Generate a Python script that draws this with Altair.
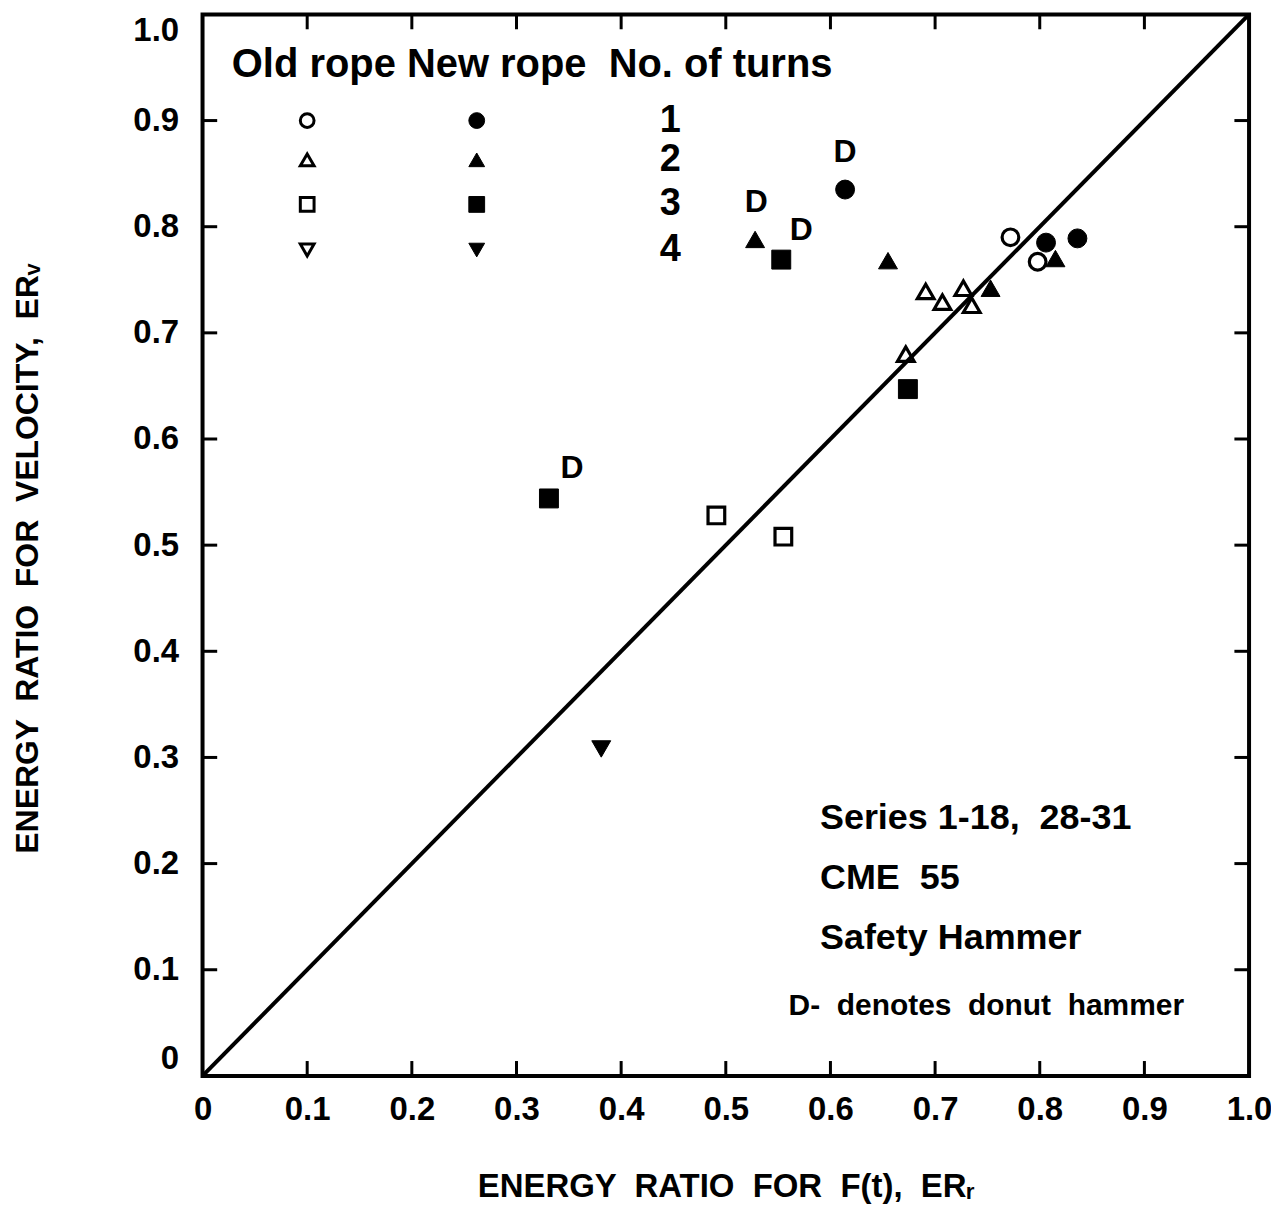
import altair as alt
import pandas as pd

FONT = "Liberation Sans, Arial, Helvetica, sans-serif"
SP2 = " \u00a0"  # a double space that SVG will not collapse

# ---- data ----
old1_x = [0.772, 0.798]
old1_y = [0.790, 0.767]
new1_x = [0.614, 0.806, 0.836]
new1_y = [0.835, 0.785, 0.789]
old2_x = [0.672, 0.691, 0.707, 0.727, 0.735]
old2_y = [0.680, 0.739, 0.729, 0.742, 0.726]
new2_x = [0.528, 0.655, 0.753, 0.815]
new2_y = [0.788, 0.768, 0.742, 0.770]
old3_x = [0.491, 0.555]
old3_y = [0.528, 0.508]
new3_x = [0.553, 0.674, 0.331]
new3_y = [0.769, 0.647, 0.544]
new4_x = [0.381]
new4_y = [0.308]

d_label_x = [0.614, 0.529, 0.572, 0.353]
d_label_y = [0.870, 0.823, 0.797, 0.573]

diag_x = [0.0, 1.0]
diag_y = [0.0, 1.0]

tick_values = [0.1, 0.2, 0.3, 0.4, 0.5, 0.6, 0.7, 0.8, 0.9]
axis_values = [0.0, 0.1, 0.2, 0.3, 0.4, 0.5, 0.6, 0.7, 0.8, 0.9, 1.0]

legend_turns = ["1", "2", "3", "4"]
legend_y = [0.900, 0.863, 0.821, 0.778]
legend_old_x = 0.100
legend_new_x = 0.262
legend_num_x = 0.447
legend_header = "Old rope New rope" + SP2 + "No. of turns"
header_x = 0.028
header_y = 0.952

note_lines = ["Series 1-18," + SP2 + "28-31", "CME" + SP2 + "55", "Safety Hammer"]
note_x = [0.590, 0.590, 0.590]
note_y = [0.2425, 0.186, 0.130]
footnote = "D-" + SP2 + "denotes" + SP2 + "donut" + SP2 + "hammer"
footnote_x = 0.560
footnote_y = 0.066

x_title = "ENERGY" + SP2 + "RATIO" + SP2 + "FOR" + SP2 + "F(t)," + SP2 + "ERᵣ"
y_title = "ENERGY" + SP2 + "RATIO" + SP2 + "FOR" + SP2 + "VELOCITY," + SP2 + "ERᵥ"

# ---- tables ----
rows = []
for rope, turns, xs_, ys_ in [
    ("Old", "1", old1_x, old1_y), ("New", "1", new1_x, new1_y),
    ("Old", "2", old2_x, old2_y), ("New", "2", new2_x, new2_y),
    ("Old", "3", old3_x, old3_y), ("New", "3", new3_x, new3_y),
    ("New", "4", new4_x, new4_y),
]:
    for a, b in zip(xs_, ys_):
        rows.append({"x": a, "y": b, "rope": rope, "turns": turns})
pts = pd.DataFrame(rows)

leg_rows = []
for t, yy in zip(legend_turns, legend_y):
    leg_rows.append({"x": legend_old_x, "y": yy, "rope": "Old", "turns": t})
    leg_rows.append({"x": legend_new_x, "y": yy, "rope": "New", "turns": t})
leg = pd.DataFrame(leg_rows)
leg_num = pd.DataFrame({"x": [legend_num_x] * 4, "y": legend_y, "t": legend_turns})

xs = alt.Scale(domain=[0, 1], nice=False, zero=False)
ys = alt.Scale(domain=[0, 1], nice=False, zero=False)

label_expr = "datum.value == 0 ? '0' : format(datum.value, '.1f')"

x_axis = alt.Axis(values=axis_values, labelExpr=label_expr, ticks=False, domain=False, grid=False,
                  labelFont=FONT, labelFontSize=33, labelFontWeight="bold", labelColor="black",
                  labelPadding=18, labelFlush=False,
                  title=x_title, titleFont=FONT, titleFontSize=33, titleFontWeight="bold",
                  titleColor="black", titleY=95)
y_axis = alt.Axis(values=axis_values, labelExpr=label_expr, ticks=False, domain=False, grid=False,
                  labelFont=FONT, labelFontSize=33, labelFontWeight="bold", labelColor="black",
                  labelPadding=24, labelFlush=True,
                  title=y_title, titleFont=FONT, titleFontSize=32, titleFontWeight="bold",
                  titleColor="black", titleX=-158, titleY=545)

shape_scale = alt.Scale(domain=["1", "2", "3", "4"],
                        range=["circle", "triangle-up", "square", "triangle-down"])
fill_scale = alt.Scale(domain=["Old", "New"], range=["transparent", "black"])

base_x = alt.X("x:Q", scale=xs, axis=x_axis)
base_y = alt.Y("y:Q", scale=ys, axis=y_axis)

diag = alt.Chart(pd.DataFrame({"x": diag_x, "y": diag_y})).mark_line(
    color="black", strokeWidth=4).encode(x=base_x, y=base_y)

tick_df = pd.DataFrame({"v": tick_values})
L = 0.014
bottom_ticks = alt.Chart(tick_df).mark_rule(color="black", strokeWidth=3).encode(
    x=alt.X("v:Q", scale=xs), y=alt.datum(0.0), y2=alt.datum(L))
top_ticks = alt.Chart(tick_df).mark_rule(color="black", strokeWidth=3).encode(
    x=alt.X("v:Q", scale=xs), y=alt.datum(1.0), y2=alt.datum(1.0 - L))
left_ticks = alt.Chart(tick_df).mark_rule(color="black", strokeWidth=3).encode(
    y=alt.Y("v:Q", scale=ys), x=alt.datum(0.0), x2=alt.datum(L))
right_ticks = alt.Chart(tick_df).mark_rule(color="black", strokeWidth=3).encode(
    y=alt.Y("v:Q", scale=ys), x=alt.datum(1.0), x2=alt.datum(1.0 - L))


def marker_layer(df, rope, size, sw):
    return alt.Chart(df[df["rope"] == rope]).mark_point(
        stroke="black", strokeWidth=sw, opacity=1, fillOpacity=1).encode(
        x=alt.X("x:Q", scale=xs), y=alt.Y("y:Q", scale=ys),
        shape=alt.Shape("turns:N", scale=shape_scale, legend=None),
        fill=alt.Fill("rope:N", scale=fill_scale, legend=None),
        size=alt.value(size))


pts_old = marker_layer(pts, "Old", 280, 3.2)
pts_new = marker_layer(pts, "New", 360, 1)
leg_old = marker_layer(leg, "Old", 190, 3)
leg_new = marker_layer(leg, "New", 250, 1)

txt = dict(font=FONT, fontWeight="bold", color="black")

d_labels = alt.Chart(pd.DataFrame({"x": d_label_x, "y": d_label_y, "t": ["D"] * 4})).mark_text(
    fontSize=32, align="center", baseline="middle", **txt).encode(
    x=alt.X("x:Q", scale=xs), y=alt.Y("y:Q", scale=ys), text="t:N")

header = alt.Chart(pd.DataFrame({"x": [header_x], "y": [header_y], "t": [legend_header]})).mark_text(
    fontSize=40, align="left", baseline="middle", **txt).encode(
    x=alt.X("x:Q", scale=xs), y=alt.Y("y:Q", scale=ys), text="t:N")

nums = alt.Chart(leg_num).mark_text(fontSize=38, align="center", baseline="middle", **txt).encode(
    x=alt.X("x:Q", scale=xs), y=alt.Y("y:Q", scale=ys), text="t:N")

notes = alt.Chart(pd.DataFrame({"x": note_x, "y": note_y, "t": note_lines})).mark_text(
    fontSize=36, align="left", baseline="middle", **txt).encode(
    x=alt.X("x:Q", scale=xs), y=alt.Y("y:Q", scale=ys), text="t:N")

foot = alt.Chart(pd.DataFrame({"x": [footnote_x], "y": [footnote_y], "t": [footnote]})).mark_text(
    fontSize=30, align="left", baseline="middle", **txt).encode(
    x=alt.X("x:Q", scale=xs), y=alt.Y("y:Q", scale=ys), text="t:N")

chart = alt.layer(
    diag, bottom_ticks, top_ticks, left_ticks, right_ticks,
    pts_old, pts_new, leg_old, leg_new, d_labels, header, nums, notes, foot
).properties(
    width=1049, height=1064,
    autosize=alt.AutoSizeParams(type="none"),
    padding={"left": 195, "top": 5, "right": 22, "bottom": 131},
    background="white",
).configure_view(stroke="black", strokeWidth=4)

chart.save("out.html", embed_options={"renderer": "svg", "actions": False})
